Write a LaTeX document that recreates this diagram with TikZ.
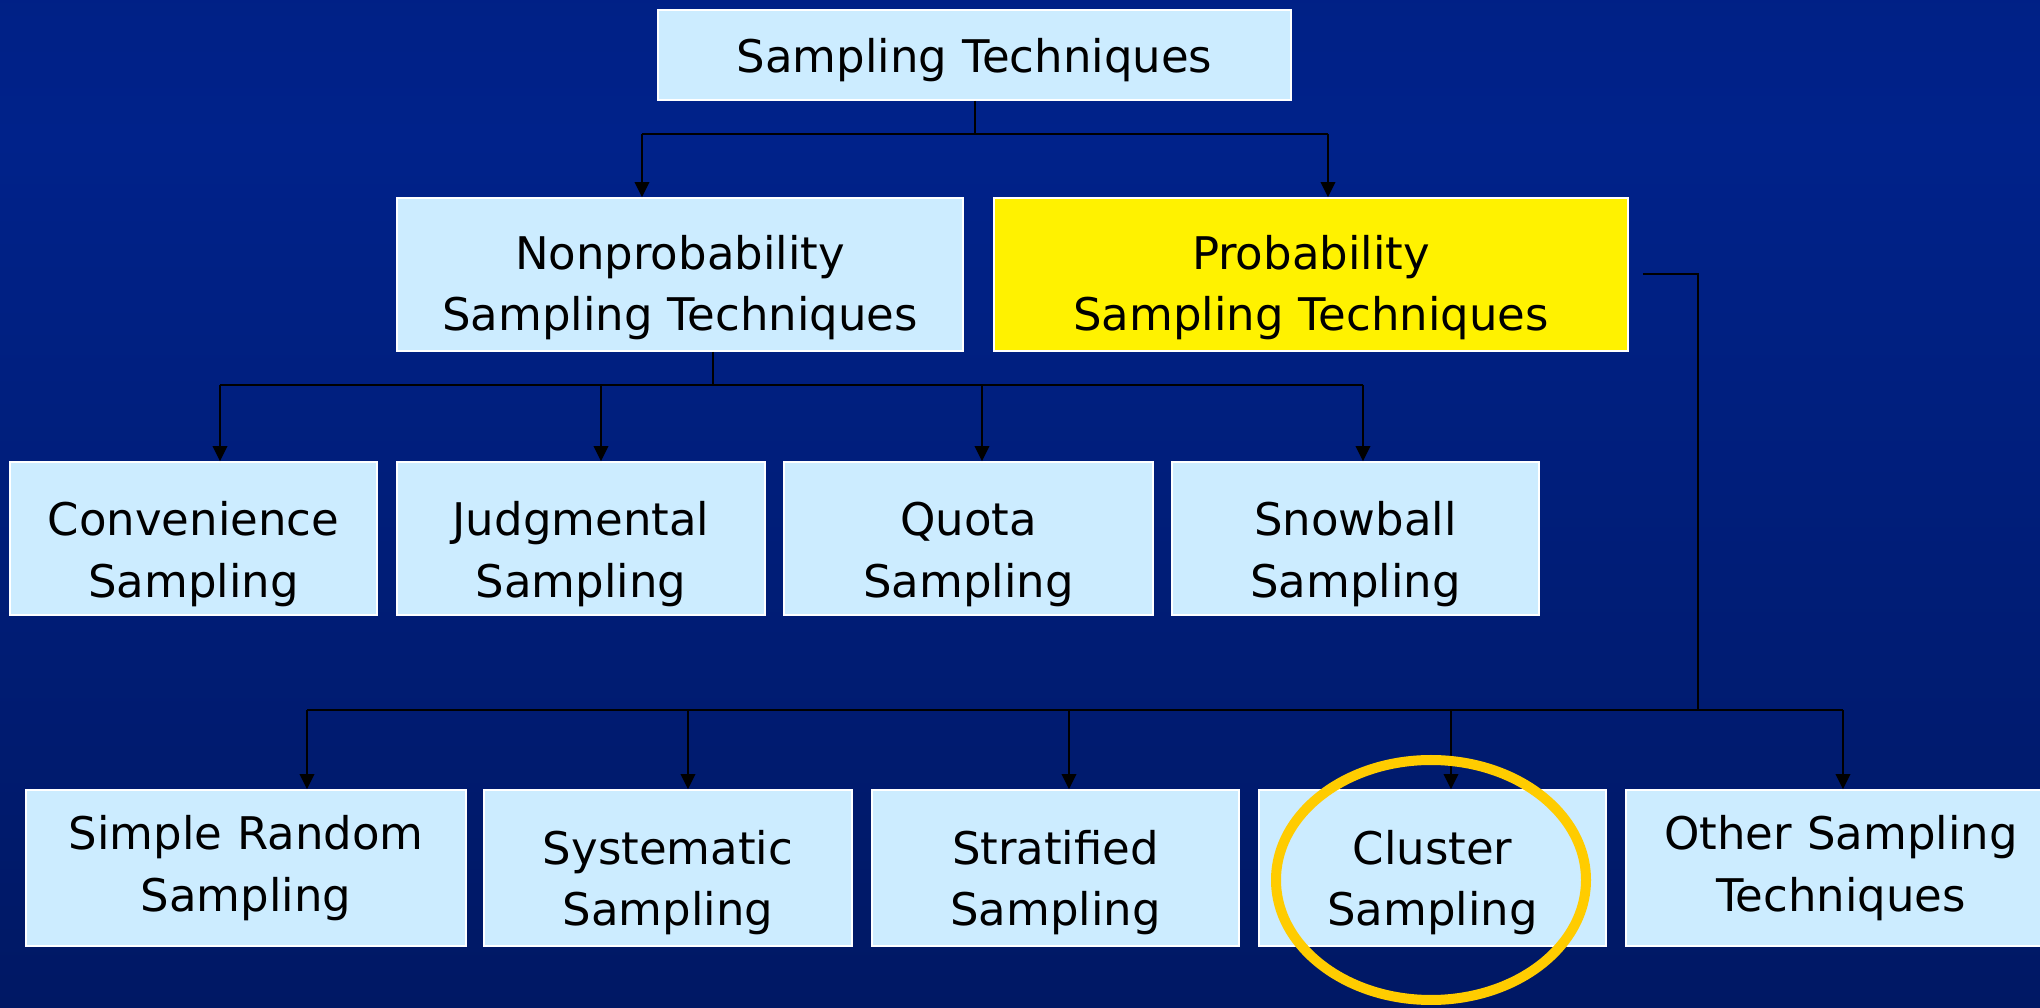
\documentclass[tikz,border=0pt]{standalone}
\usepackage{fontspec}
\setmainfont{DejaVu Sans}
\usepackage{tikz}
\usetikzlibrary{positioning, calc}
\usetikzlibrary{arrows.meta}
\definecolor{bgtop}{RGB}{0,27,120}
\definecolor{bgmid}{RGB}{0,34,138}
\definecolor{bgbot}{RGB}{0,18,78}
\definecolor{boxblue}{RGB}{204,236,255}
\definecolor{ringgold}{RGB}{255,204,0}
\pgfdeclareverticalshading{slidebg}{100bp}{color(0bp)=(bgbot); color(68bp)=(bgmid); color(100bp)=(bgtop)}

\begin{document}
\begin{tikzpicture}[>={Triangle[length=1.5mm,width=1.45mm]},draw=black!100]
	\def \rowone{9.52}
	\def \rowtwo{7.325}
	\def \rowthree{4.685}
	\def \rowfour{1.39}
	\def \busone{8.73}
	\def \bustwo{6.22}
	\def \busthree{2.97}
	\tikzstyle{t-node}=[rectangle,draw=white,line width=0.5pt,fill=boxblue,align=center,inner sep=0pt,font=\fontsize{12.8}{17.5}\selectfont]
	\tikzstyle{p-node}=[t-node,fill=yellow]
	\tikzstyle{link}=[draw=black,line width=0.57pt]
	% pushes the text of a box down a little
	\tikzset{lower/.style={execute at begin node={\rule{0pt}{#1}}}}
	
	% slide background
	\useasboundingbox (0,0) rectangle (20.40,10.07);
	\shade[shading=slidebg] (0,0) rectangle (20.40,10.07);
	
	% top
	\node[t-node,lower=12.7pt,text width=6.0cm,minimum width=6.33cm,minimum height=0.90cm]	(top)	at (9.745,\rowone)	{Sampling Techniques};
	
	% second row
	\node[t-node,lower=17.1pt,text width=5.4cm,minimum width=5.66cm,minimum height=1.53cm]	(nonprob)	at (6.80,\rowtwo)	{Nonprobability\\Sampling Techniques};
	\node[p-node,lower=17.1pt,text width=5.4cm,minimum width=6.34cm,minimum height=1.53cm]	(prob)	at (13.11,\rowtwo)	{Probability\\Sampling Techniques};
	
	% nonprobability techniques
	\node[t-node,lower=18.5pt,text width=3.4cm,minimum width=3.67cm,minimum height=1.53cm]	(conv)	at (1.935,\rowthree)	{Convenience\\Sampling};
	\node[t-node,lower=18.5pt,text width=3.4cm,minimum width=3.68cm,minimum height=1.53cm]	(judg)	at (5.81,\rowthree)	{Judgmental\\Sampling};
	\node[t-node,lower=18.5pt,text width=3.4cm,minimum width=3.69cm,minimum height=1.53cm]	(quota)	at (9.685,\rowthree)	{Quota\\Sampling};
	\node[t-node,lower=18.5pt,text width=3.4cm,minimum width=3.67cm,minimum height=1.53cm]	(snow)	at (13.555,\rowthree)	{Snowball\\Sampling};
	
	% probability techniques
	\node[t-node,text width=4.2cm,minimum width=4.40cm,minimum height=1.56cm]	(simple)	at (2.46,\rowfour)	{Simple Random\\Sampling};
	\node[t-node,lower=17.9pt,text width=3.4cm,minimum width=3.68cm,minimum height=1.56cm]	(syst)	at (6.68,\rowfour)	{Systematic\\Sampling};
	\node[t-node,lower=17.9pt,text width=3.4cm,minimum width=3.67cm,minimum height=1.56cm]	(strat)	at (10.555,\rowfour)	{Stratified\\Sampling};
	\node[t-node,lower=17.9pt,text width=3.4cm,minimum width=3.47cm,minimum height=1.56cm]	(cluster)	at (14.325,\rowfour)	{Cluster\\Sampling};
	\node[t-node,text width=4.2cm,minimum width=4.30cm,minimum height=1.56cm]	(other)	at (18.41,\rowfour)	{Other Sampling\\Techniques};
	
	% bus points
	\coordinate (topjoin)	at (9.745,\busone);
	\coordinate (topl)	at (6.42,\busone);
	\coordinate (topr)	at (13.28,\busone);
	\coordinate (npjoin)	at (7.13,\bustwo);
	\coordinate (npl)	at (2.20,\bustwo);
	\coordinate (npr)	at (13.63,\bustwo);
	\coordinate (pjoin)	at (16.98,\busthree);
	\coordinate (pl)	at (3.07,\busthree);
	\coordinate (pr)	at (18.43,\busthree);
	
	\draw[link] (top) -- (topjoin);
	\draw[link] (topl) -- (topr);
	\draw[link,->] (topl) -- (topl |- nonprob.north);
	\draw[link,->] (topr) -- (topr |- prob.north);
	
	\draw[link] (nonprob.south -| npjoin) -- (npjoin);
	\draw[link] (npl) -- (npr);
	\foreach \n/\x in {conv/2.20,judg/6.01,quota/9.82,snow/13.63}
		\draw[link,->] (\x,\bustwo) -- (\x,\bustwo |- \n.north);
	
	\draw[link] ([xshift=1.4mm]prob.east) -| (pjoin);
	\draw[link] (pl) -- (pr);
	\foreach \n/\x in {simple/3.07,syst/6.88,strat/10.69,cluster/14.51,other/18.43}
		\draw[link,->] (\x,\busthree) -- (\x,\busthree |- \n.north);
	
	% highlight
	\draw[ringgold,line width=0.1cm] (cluster.center) ++(-0.015,-0.12) ellipse [x radius=1.55cm,y radius=1.20cm];
\end{tikzpicture}
\end{document}
